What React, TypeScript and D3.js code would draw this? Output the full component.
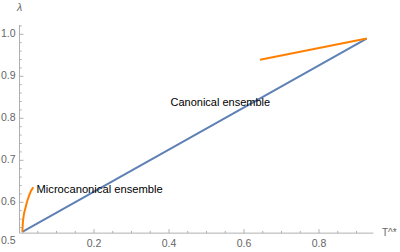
import React from "react";
import * as d3 from "d3";

const blueT = [0.0088, 0.927];
const blueL = [0.5295, 0.9899];

const microT = [0.0088, 0.0107, 0.0133, 0.0168, 0.0213, 0.0267, 0.032, 0.0381];
const microL = [0.5295, 0.5563, 0.5728, 0.5851, 0.6012, 0.6154, 0.6272, 0.6359];

const canT = [0.6427, 0.9272];
const canL = [0.9392, 0.9901];

const xMajor = [0.2, 0.4, 0.6, 0.8];
const xLabels = ["0.2", "0.4", "0.6", "0.8"];
const yMajor = [0.6, 0.7, 0.8, 0.9, 1.0];
const yLabels = ["0.6", "0.7", "0.8", "0.9", "1.0"];

const W = 400, H = 252;

export default function App() {
  const x = d3.scaleLinear().domain([0, 0.8]).range([19, 319]);
  const y = d3.scaleLinear().domain([0.5, 1.0]).range([244.3, 34.3]);
  const xAxisMin = 0.0013, xAxisMax = 0.945;
  const yAxisMin = 0.5266, yAxisMax = 1.022;
  const ax = x(xAxisMin), ay = y(yAxisMin);

  const xMinor: number[] = [];
  for (let i = 1; i <= 18; i++) {
    const v = +(i * 0.05).toFixed(2);
    if (v <= xAxisMax && !xMajor.some((m) => Math.abs(m - v) < 1e-6)) xMinor.push(v);
  }
  const yMinor: number[] = [];
  for (let i = 27; i <= 51; i++) {
    const v = +(i * 0.02).toFixed(2);
    if (v >= yAxisMin && v <= yAxisMax && !yMajor.some((m) => Math.abs(m - v) < 1e-6)) yMinor.push(v);
  }

  const line = d3.line<[number, number]>().x((d) => x(d[0])).y((d) => y(d[1]));
  const zip = (a: number[], b: number[]) => a.map((v, i) => [v, b[i]] as [number, number]);

  const axisColor = "#b0b0b0";
  const labColor = "#666";
  const font = "'Liberation Sans', Arial, sans-serif";

  return (
    <svg width={W} height={H} style={{ position: "absolute", left: 0, top: 0, display: "block" }} fontFamily={font}>
      <rect width={W} height={H} fill="#fff" />
      <line x1={ax} x2={x(xAxisMax)} y1={ay} y2={ay} stroke={axisColor} strokeWidth={1} />
      <line x1={ax} x2={ax} y1={ay} y2={y(yAxisMax)} stroke={axisColor} strokeWidth={1} />
      {xMajor.map((v) => (
        <line key={"xM" + v} x1={x(v)} x2={x(v)} y1={ay} y2={ay - 4} stroke={axisColor} />
      ))}
      {xMinor.map((v) => (
        <line key={"xm" + v} x1={x(v)} x2={x(v)} y1={ay} y2={ay - 2.2} stroke={axisColor} />
      ))}
      {yMajor.map((v) => (
        <line key={"yM" + v} x1={ax} x2={ax + 4} y1={y(v)} y2={y(v)} stroke={axisColor} />
      ))}
      {yMinor.map((v) => (
        <line key={"ym" + v} x1={ax} x2={ax + 2.2} y1={y(v)} y2={y(v)} stroke={axisColor} />
      ))}
      {xMajor.map((v, i) => (
        <text key={"xl" + v} x={x(v)} y={ay + 11} textAnchor="middle" dominantBaseline="middle" fontSize={10.5} fill={labColor}>
          {xLabels[i]}
        </text>
      ))}
      {yMajor.map((v, i) => (
        <text key={"yl" + v} x={ax - 4} y={y(v)} textAnchor="end" dominantBaseline="middle" fontSize={10.5} fill={labColor}>
          {yLabels[i]}
        </text>
      ))}
      <text x={ax - 4} y={ay + 8.5} textAnchor="end" dominantBaseline="middle" fontSize={10.5} fill={labColor}>0.5</text>
      <text x={ax} y={8} textAnchor="middle" dominantBaseline="middle" fontSize={10.5} fill={labColor} fontStyle="italic">λ</text>
      <text x={382} y={ay} dominantBaseline="middle" fontSize={10} fill={labColor}>T^*</text>

      <path d={line(zip(blueT, blueL)) || ""} fill="none" stroke="#5E81B5" strokeWidth={2} />
      <path d={line(zip(microT, microL)) || ""} fill="none" stroke="#FF8000" strokeWidth={2} />
      <path d={line(zip(canT, canL)) || ""} fill="none" stroke="#FF8000" strokeWidth={2} />

      <text x={170.5} y={103.5} dominantBaseline="middle" fontSize={11} fill="#000">Canonical ensemble</text>
      <text x={36.5} y={190.5} dominantBaseline="middle" fontSize={11.2} fill="#000">Microcanonical ensemble</text>
    </svg>
  );
}
